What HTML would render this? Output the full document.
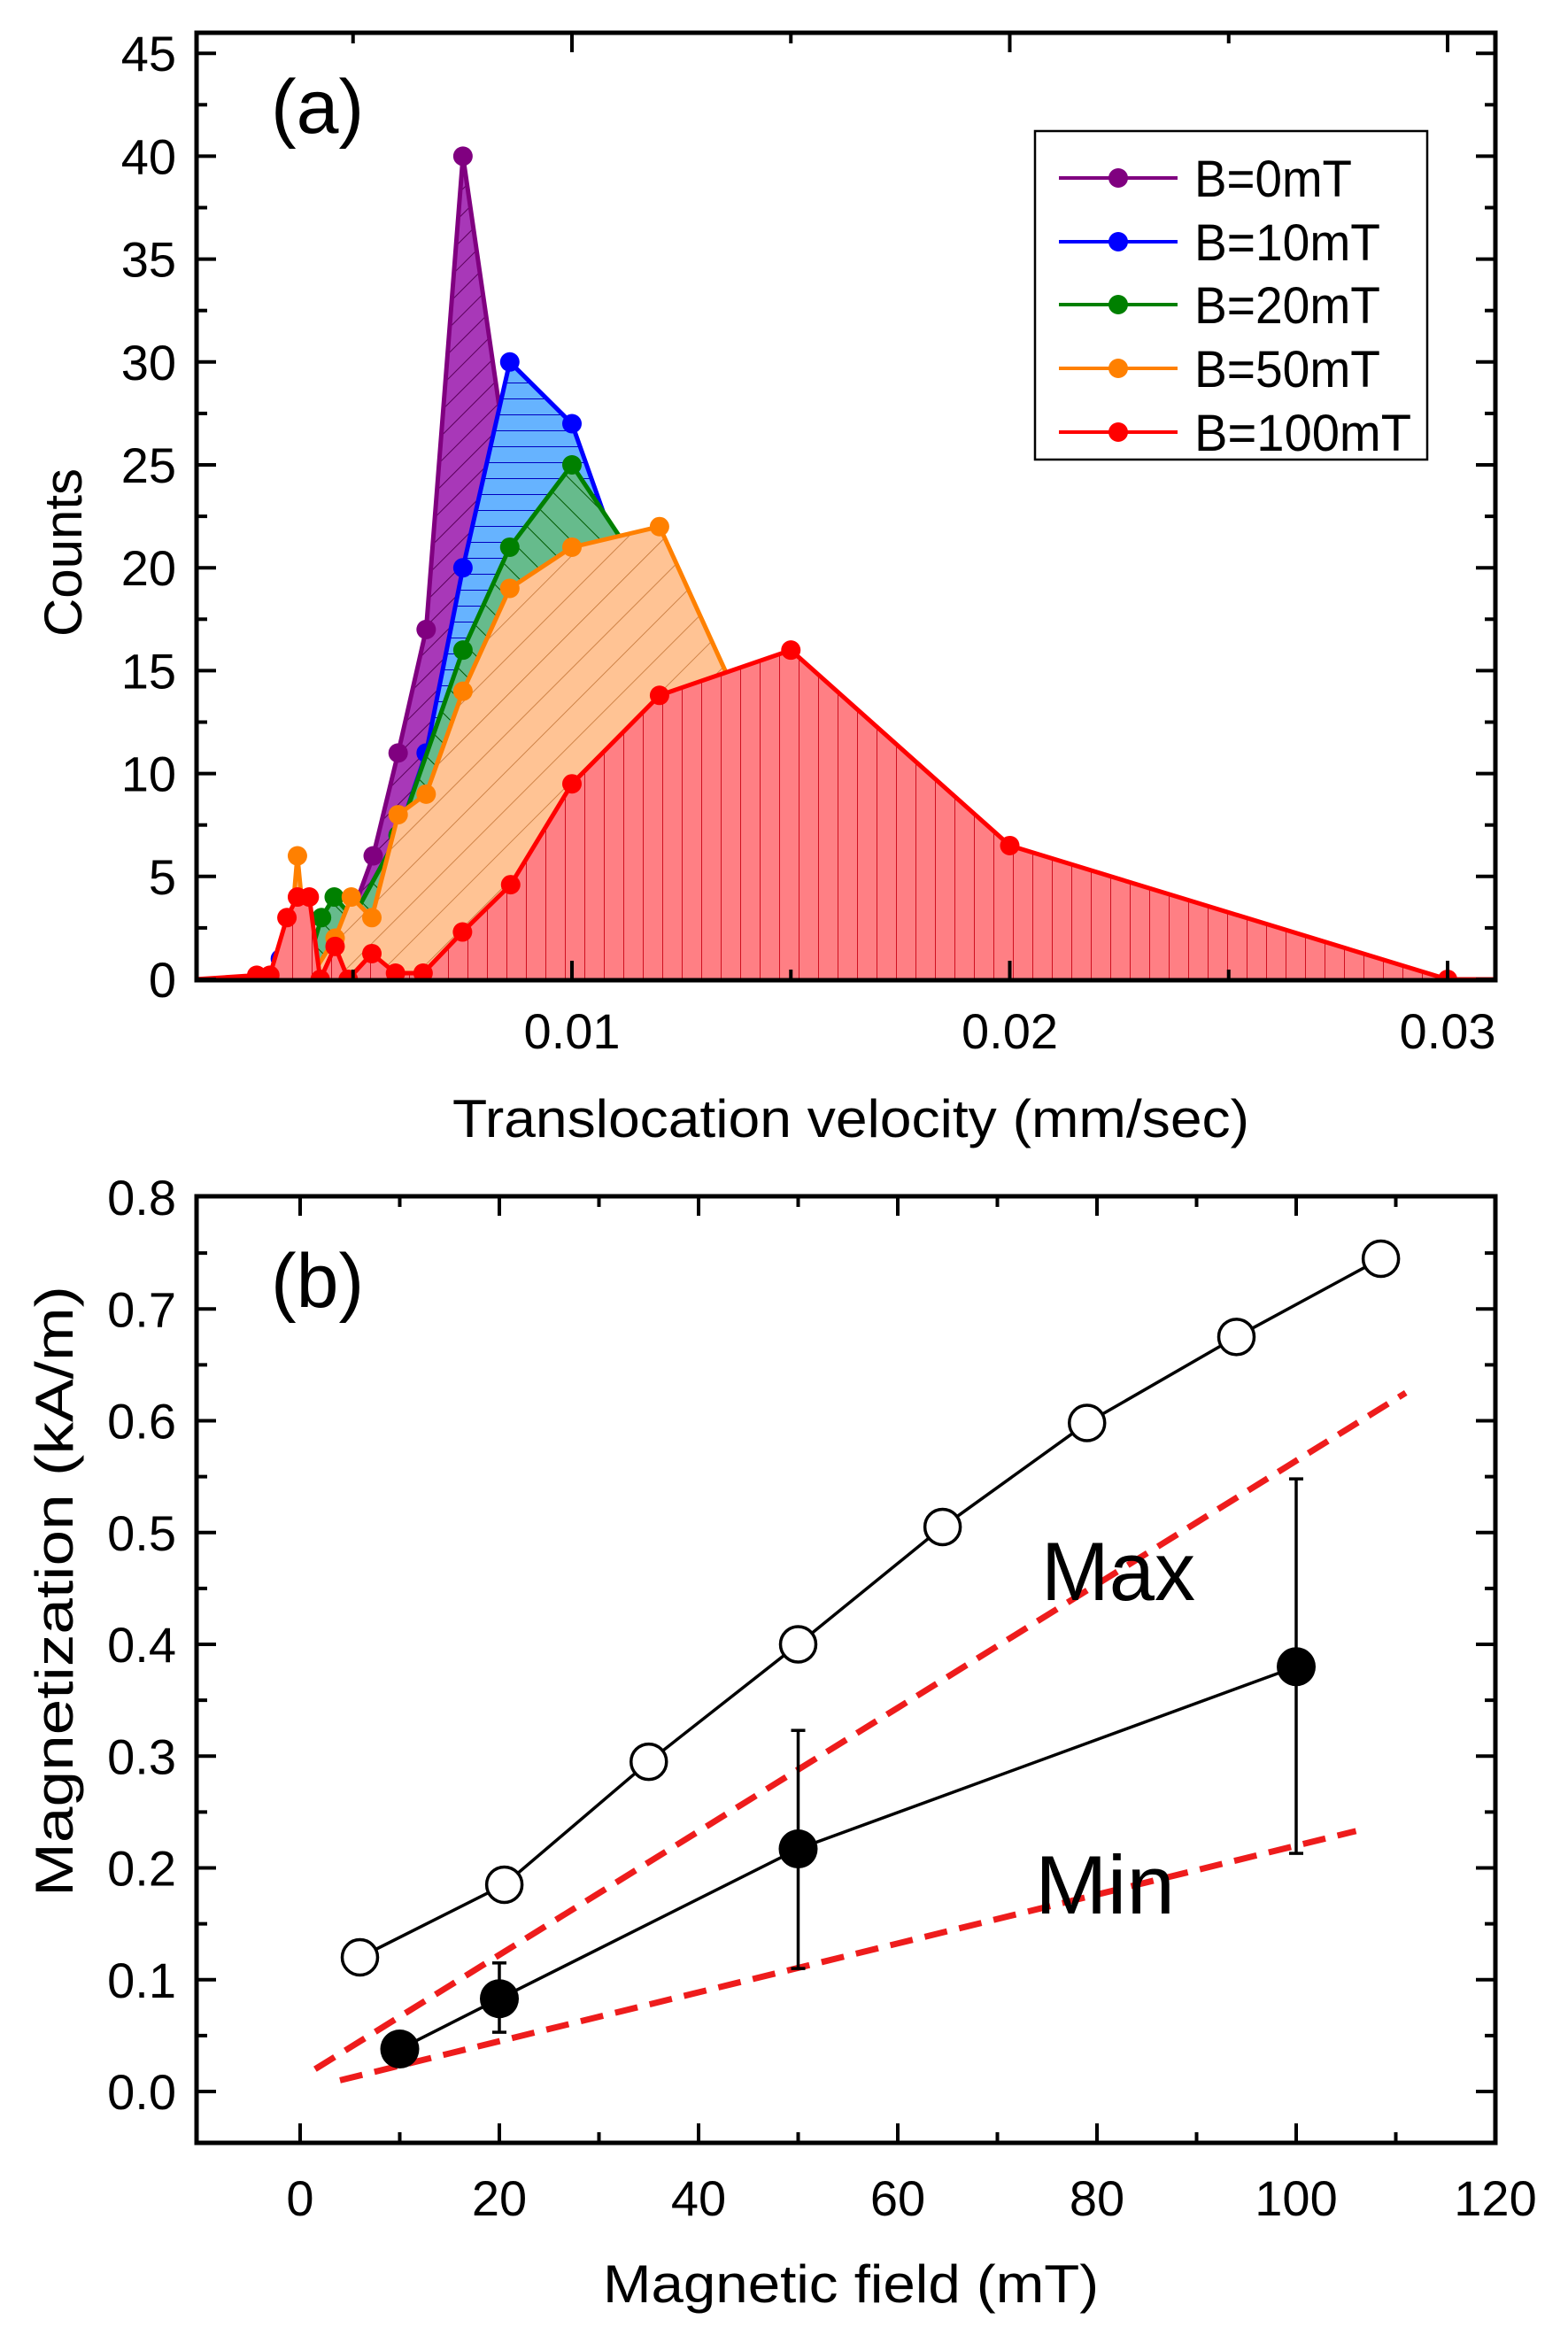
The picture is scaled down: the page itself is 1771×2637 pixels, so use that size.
<!DOCTYPE html>
<html><head><meta charset="utf-8"><style>
html,body{margin:0;padding:0;background:#fff}
svg{display:block}
text{font-family:"Liberation Sans",Arial,sans-serif;fill:#000}
</style></head><body>
<svg id="fig" xmlns="http://www.w3.org/2000/svg" width="1771" height="2637" viewBox="0 0 1771 2637">
<defs>
<pattern id="hP" patternUnits="userSpaceOnUse" width="20" height="20" patternTransform="rotate(45)"><rect width="20" height="20" fill="#a838b8"/><line x1="0" y1="0" x2="0" y2="20" stroke="#5a005a" stroke-width="2"/></pattern>
<pattern id="hB" patternUnits="userSpaceOnUse" width="20" height="18"><rect width="20" height="18" fill="#66b3ff"/><line x1="0" y1="0" x2="20" y2="0" stroke="#0000c0" stroke-width="2"/></pattern>
<pattern id="hG" patternUnits="userSpaceOnUse" width="24" height="24" patternTransform="rotate(-45)"><rect width="24" height="24" fill="#66bb8c"/><line x1="0" y1="0" x2="0" y2="24" stroke="#005a00" stroke-width="2"/></pattern>
<pattern id="hO" patternUnits="userSpaceOnUse" width="30" height="30" patternTransform="rotate(45)"><rect width="30" height="30" fill="#ffc394"/><line x1="0" y1="0" x2="0" y2="30" stroke="#c07030" stroke-width="1.5"/></pattern>
<pattern id="hR" patternUnits="userSpaceOnUse" width="22" height="22"><rect width="22" height="22" fill="#ff7f84"/><line x1="0" y1="0" x2="0" y2="22" stroke="#d01020" stroke-width="2"/></pattern>
<clipPath id="clipA"><rect x="222" y="37" width="1467" height="1070"/></clipPath>
</defs>
<g id="plotA"></g>
<g id="plotB"></g>
</svg>
<script>
// ---------- Panel (a) data ----------
const seriesNames = ["B=0mT","B=10mT","B=20mT","B=50mT","B=100mT"];
const purpleV = [0.0032,0.0046,0.00546,0.00603,0.00667,0.00751,0.0086,0.0100,0.0110];
const purpleC = [0,1,6,11,17,40,24,10,0];
const blueV = [0.0030,0.00334,0.0040,0.0050,0.00603,0.00667,0.00751,0.00858,0.0100,0.0115,0.0130,0.0150];
const blueC = [0,1,2,3,7,11,20,30,27,18,6,0];
const greenV = [0.0030,0.0040,0.00428,0.00457,0.0050,0.00603,0.00751,0.00858,0.0100,0.0125,0.0140,0.0160];
const greenC = [0,1,3,4,3,7,16,21,25,17,8,0];
const orangeV = [0.0030,0.00349,0.00373,0.0040,0.00459,0.00496,0.00543,0.00603,0.00667,0.00751,0.00858,0.0100,0.0120,0.0150,0.0180];
const orangeC = [0,0,6,0,2,4,3,8,9,14,19,21,22,8,0];
const redV = [0.0014,0.0028,0.0031,0.00349,0.00373,0.0040,0.00425,0.00459,0.00489,0.00543,0.00597,0.0066,0.0075,0.0086,0.0100,0.0120,0.0150,0.0200,0.0300,0.0312];
const redC = [0,0.2,0.2,3,4,4,0,1.6,0,1.25,0.3,0.3,2.3,4.6,9.5,13.8,16,6.5,0,0];
const countTicks = [0,5,10,15,20,25,30,35,40,45];
const velTicks = [0.01,0.02,0.03];
const velTickLabels = ["0.01","0.02","0.03"];
// ---------- Panel (b) data ----------
const openField = [6,20.5,35,50,64.5,79,94,108.5];
const openMag = [0.12,0.185,0.295,0.40,0.505,0.598,0.675,0.745];
const fillField = [10,20,50,100];
const fillMag = [0.038,0.083,0.217,0.38];
const errLow = [0.038,0.053,0.11,0.213];
const errHigh = [0.038,0.115,0.323,0.548];
const maxLineF = [1.5,111];
const maxLineM = [0.02,0.625];
const minLineF = [4,106];
const minLineM = [0.01,0.233];
const fieldTicks = [0,20,40,60,80,100,120];
const magTicks = [0.0,0.1,0.2,0.3,0.4,0.5,0.6,0.7,0.8];
const magTickLabels = ["0.0","0.1","0.2","0.3","0.4","0.5","0.6","0.7","0.8"];

const NS="http://www.w3.org/2000/svg";
function mk(parent, tag, attrs, txt){const e=document.createElementNS(NS,tag);for(const k in attrs)e.setAttribute(k,attrs[k]);if(txt!==undefined)e.textContent=txt;parent.appendChild(e);return e;}

// ---- axes A ----
const A={l:222,r:1689,t:37,b:1107};
const xA=v=>151.5+v*49450;
const yA=c=>1106-c*23.24;
const gA=document.getElementById('plotA');

const colors=[["#800080","url(#hP)"],["#0000ff","url(#hB)"],["#008000","url(#hG)"],["#ff8000","url(#hO)"],["#ff0000","url(#hR)"]];
const Vs=[purpleV,blueV,greenV,orangeV,redV], Cs=[purpleC,blueC,greenC,orangeC,redC];
const keys=["b0","b10","b20","b50","b100"];
const clipG=mk(gA,'g',{'clip-path':'url(#clipA)'});


for(let s=0;s<5;s++){
  const V=Vs[s],C=Cs[s];
  const pts=V.map((v,i)=>xA(v).toFixed(1)+','+yA(C[i]).toFixed(1));
  const area=mk(clipG,'polygon',{points:xA(V[0])+','+yA(0)+' '+pts.join(' ')+' '+xA(V[V.length-1])+','+yA(0),fill:colors[s][1]});
  
  
  const ln=mk(clipG,'polyline',{points:pts.join(' '),fill:'none',stroke:colors[s][0],'stroke-width':5,'stroke-linejoin':'round'});
  
  
  for(let i=0;i<V.length;i++){
    if(V[i]<0.0025||V[i]>0.0305) continue;
    const c=mk(clipG,'circle',{cx:xA(V[i]),cy:yA(C[i]),r:11,fill:colors[s][0]});
    
    
  }
}
const fA=mk(gA,'rect',{x:A.l,y:A.t,width:A.r-A.l,height:A.b-A.t,fill:'none',stroke:'#000','stroke-width':5});


for(let c=0;c<=45;c+=2.5){
  const y=yA(c), maj=(c%5===0), L=maj?22:12;
  mk(gA,'line',{x1:A.l,y1:y,x2:A.l+L,y2:y,stroke:'#000','stroke-width':4});
  mk(gA,'line',{x1:A.r,y1:y,x2:A.r-L,y2:y,stroke:'#000','stroke-width':4});
}
countTicks.forEach(c=>{
  const t=mk(gA,'text',{x:199,y:yA(c)+20,'text-anchor':'end','font-size':56},String(c));
  
  
});
for(let v=0.005;v<=0.031;v+=0.005){
  const x=xA(v), maj=Math.abs(v*100-Math.round(v*100))<1e-6, L=maj?22:12;
  mk(gA,'line',{x1:x,y1:A.b,x2:x,y2:A.b-L,stroke:'#000','stroke-width':4});
  mk(gA,'line',{x1:x,y1:A.t,x2:x,y2:A.t+L,stroke:'#000','stroke-width':4});
}
velTicks.forEach((v,i)=>{
  const t=mk(gA,'text',{x:xA(v),y:1184,'text-anchor':'middle','font-size':56},velTickLabels[i]);
  
  
});
let t;
t=mk(gA,'text',{x:961,y:1284,'text-anchor':'middle','font-size':60,textLength:900,lengthAdjust:'spacingAndGlyphs'},'Translocation velocity (mm/sec)');


t=mk(gA,'text',{x:0,y:0,'text-anchor':'middle','font-size':60,transform:'translate(92,624) rotate(-90)',textLength:190,lengthAdjust:'spacingAndGlyphs'},'Counts');


t=mk(gA,'text',{x:306,y:150,'font-size':86},'(a)');


const lg=mk(gA,'g',{});


mk(lg,'rect',{x:1169,y:148,width:443,height:371,fill:'#fff',stroke:'#000','stroke-width':2.5});
const legY=[201,273,344,416,488];
seriesNames.forEach((n,i)=>{
  const e=mk(lg,'g',{});
  
  
  mk(e,'line',{x1:1196,y1:legY[i],x2:1330,y2:legY[i],stroke:colors[i][0],'stroke-width':4});
  mk(e,'circle',{cx:1263,cy:legY[i],r:11,fill:colors[i][0]});
  mk(e,'text',{x:1349,y:legY[i]+21,'font-size':58,textLength:[178,210,210,210,245][i],lengthAdjust:'spacingAndGlyphs'},n);
});

// ---- axes B ----
const B={l:222,r:1689,t:1351,b:2420};
const xB=m=>339+m*11.25;
const yB=v=>2362-v*1262.5;
const gB=document.getElementById('plotB');
const fB=mk(gB,'rect',{x:B.l,y:B.t,width:B.r-B.l,height:B.b-B.t,fill:'none',stroke:'#000','stroke-width':5});


for(let k=0;k<=16;k++){
  const v=k*0.05, y=yB(v), maj=k%2===0, L=maj?22:12;
  if(y<B.t+2) continue;
  mk(gB,'line',{x1:B.l,y1:y,x2:B.l+L,y2:y,stroke:'#000','stroke-width':4});
  mk(gB,'line',{x1:B.r,y1:y,x2:B.r-L,y2:y,stroke:'#000','stroke-width':4});
}
magTicks.forEach((v,i)=>{
  const tt=mk(gB,'text',{x:199,y:yB(v)+20,'text-anchor':'end','font-size':56},magTickLabels[i]);
  
  
});
for(let m=0;m<=110;m+=10){
  const x=xB(m), maj=m%20===0, L=maj?22:12;
  mk(gB,'line',{x1:x,y1:B.b,x2:x,y2:B.b-L,stroke:'#000','stroke-width':4});
  mk(gB,'line',{x1:x,y1:B.t,x2:x,y2:B.t+L,stroke:'#000','stroke-width':4});
}
fieldTicks.forEach(m=>{
  const tt=mk(gB,'text',{x:xB(m),y:2502,'text-anchor':'middle','font-size':56},String(m));
  
  
});
t=mk(gB,'text',{x:961,y:2600,'text-anchor':'middle','font-size':60,textLength:560,lengthAdjust:'spacingAndGlyphs'},'Magnetic field (mT)');


t=mk(gB,'text',{x:0,y:0,'text-anchor':'middle','font-size':60,transform:'translate(82,1797) rotate(-90)',textLength:690,lengthAdjust:'spacingAndGlyphs'},'Magnetization (kA/m)');


t=mk(gB,'text',{x:306,y:1476,'font-size':86},'(b)');


let d=mk(gB,'line',{x1:xB(maxLineF[0]),y1:yB(maxLineM[0]),x2:xB(maxLineF[1]),y2:yB(maxLineM[1]),stroke:'#ee1c1c','stroke-width':7,'stroke-dasharray':'26 14'});


d=mk(gB,'line',{x1:xB(minLineF[0]),y1:yB(minLineM[0]),x2:xB(minLineF[1]),y2:yB(minLineM[1]),stroke:'#ee1c1c','stroke-width':7,'stroke-dasharray':'26 14'});


t=mk(gB,'text',{x:1176,y:1807,'font-size':94,textLength:174,lengthAdjust:'spacingAndGlyphs'},'Max');


t=mk(gB,'text',{x:1169,y:2161,'font-size':94,textLength:158,lengthAdjust:'spacingAndGlyphs'},'Min');


let pl=mk(gB,'polyline',{points:openField.map((m,i)=>xB(m)+','+yB(openMag[i])).join(' '),fill:'none',stroke:'#000','stroke-width':3.5});


openField.forEach((m,i)=>{
  const c=mk(gB,'circle',{cx:xB(m),cy:yB(openMag[i]),r:20,fill:'#fff',stroke:'#000','stroke-width':3.5});
  
  
});
pl=mk(gB,'polyline',{points:fillField.map((m,i)=>xB(m)+','+yB(fillMag[i])).join(' '),fill:'none',stroke:'#000','stroke-width':3.5});


fillField.forEach((m,i)=>{
  const x=xB(m);
  if(errHigh[i]>errLow[i]){
    const eb=mk(gB,'g',{});
    
    
    mk(eb,'line',{x1:x,y1:yB(errLow[i]),x2:x,y2:yB(errHigh[i]),stroke:'#000','stroke-width':3.5});
    mk(eb,'line',{x1:x-8,y1:yB(errLow[i]),x2:x+8,y2:yB(errLow[i]),stroke:'#000','stroke-width':3.5});
    mk(eb,'line',{x1:x-8,y1:yB(errHigh[i]),x2:x+8,y2:yB(errHigh[i]),stroke:'#000','stroke-width':3.5});
  }
  const c=mk(gB,'circle',{cx:x,cy:yB(fillMag[i]),r:22,fill:'#000'});
  
  
});
</script>
</body></html>
